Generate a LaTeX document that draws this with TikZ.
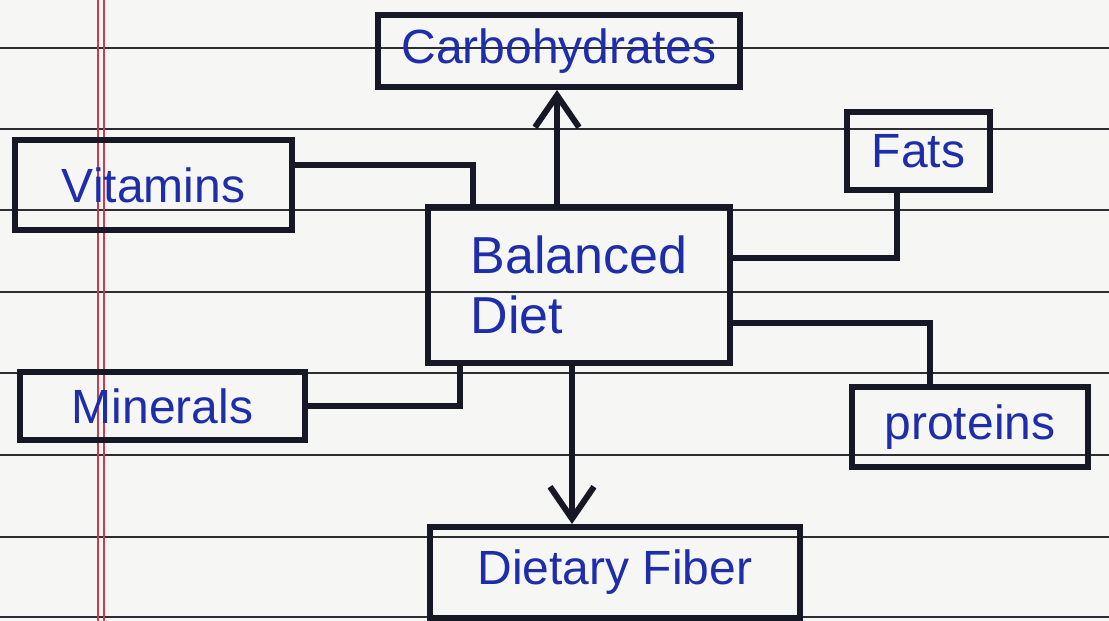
\documentclass[tikz,border=0pt]{standalone}
\usepackage{fontspec}
\setmainfont{Liberation Sans}
\usetikzlibrary{arrows.meta}
\definecolor{paper}{RGB}{246,246,244}
\definecolor{ruleline}{RGB}{45,45,50}
\definecolor{marginred}{RGB}{200,60,80}
\definecolor{inkblue}{RGB}{30,45,170}
\definecolor{marker}{RGB}{22,24,38}

\begin{document}
\begin{tikzpicture}[x=0.5pt,y=-0.5pt,
  foodbox/.style={draw=marker,line width=3pt,rectangle,inner sep=0pt,
    text=inkblue,font=\fontsize{24}{30}\selectfont},
  link/.style={draw=marker,line width=3pt},
  linkarrow/.style={link,-{Straight Barb[length=16pt,width=22pt,line width=3pt]}}]
  \fill[paper] (0,0) rectangle (1109,621);
  \useasboundingbox (0,0) rectangle (1109,621);
  % ruled paper
  \foreach \ly in {48,129,210,292,373,455,537,617}
    \draw[ruleline,line width=0.8pt] (0,\ly) -- (1109,\ly);
  \foreach \mx in {98,104}
    \draw[marginred,line width=0.7pt] (\mx,0) -- (\mx,621);
  % boxes
  \node[foodbox,minimum width=181pt,minimum height=36pt] (carb) at (559,51) {Carbohydrates};
  \node[foodbox,minimum width=138.5pt,minimum height=45pt] (vit) at (153.5,185) {Vitamins};
  \node[foodbox,minimum width=71.5pt,minimum height=39pt] (fats) at (918.5,151) {Fats};
  \node[foodbox,minimum width=151pt,minimum height=78pt,align=left,
    font=\fontsize{26}{30}\selectfont] (diet) at (579,285) {Balanced\\Diet};
  \node[foodbox,minimum width=142.5pt,minimum height=34pt] (min) at (162.5,406) {Minerals};
  \node[foodbox,minimum width=118pt,minimum height=40pt] (prot) at (970,427) {proteins};
  \node[foodbox,minimum width=185pt,minimum height=45.5pt] (fib) at (615,572.5) {Dietary Fiber};
  % connectors
  \draw[linkarrow] (diet.north -| 557,0) -- (carb.south -| 557,0);
  \draw[linkarrow] (diet.south -| 572,0) -- (fib.north -| 572,0);
  \draw[link] (vit.east |- 0,165) -| (diet.north -| 473,0);
  \draw[link] (min.east) -| (diet.south -| 460,0);
  \draw[link] (fats.south -| 897,0) |- (diet.east |- 0,258);
  \draw[link] (diet.east |- 0,323) -| (prot.north -| 930,0);
\end{tikzpicture}
\end{document}
